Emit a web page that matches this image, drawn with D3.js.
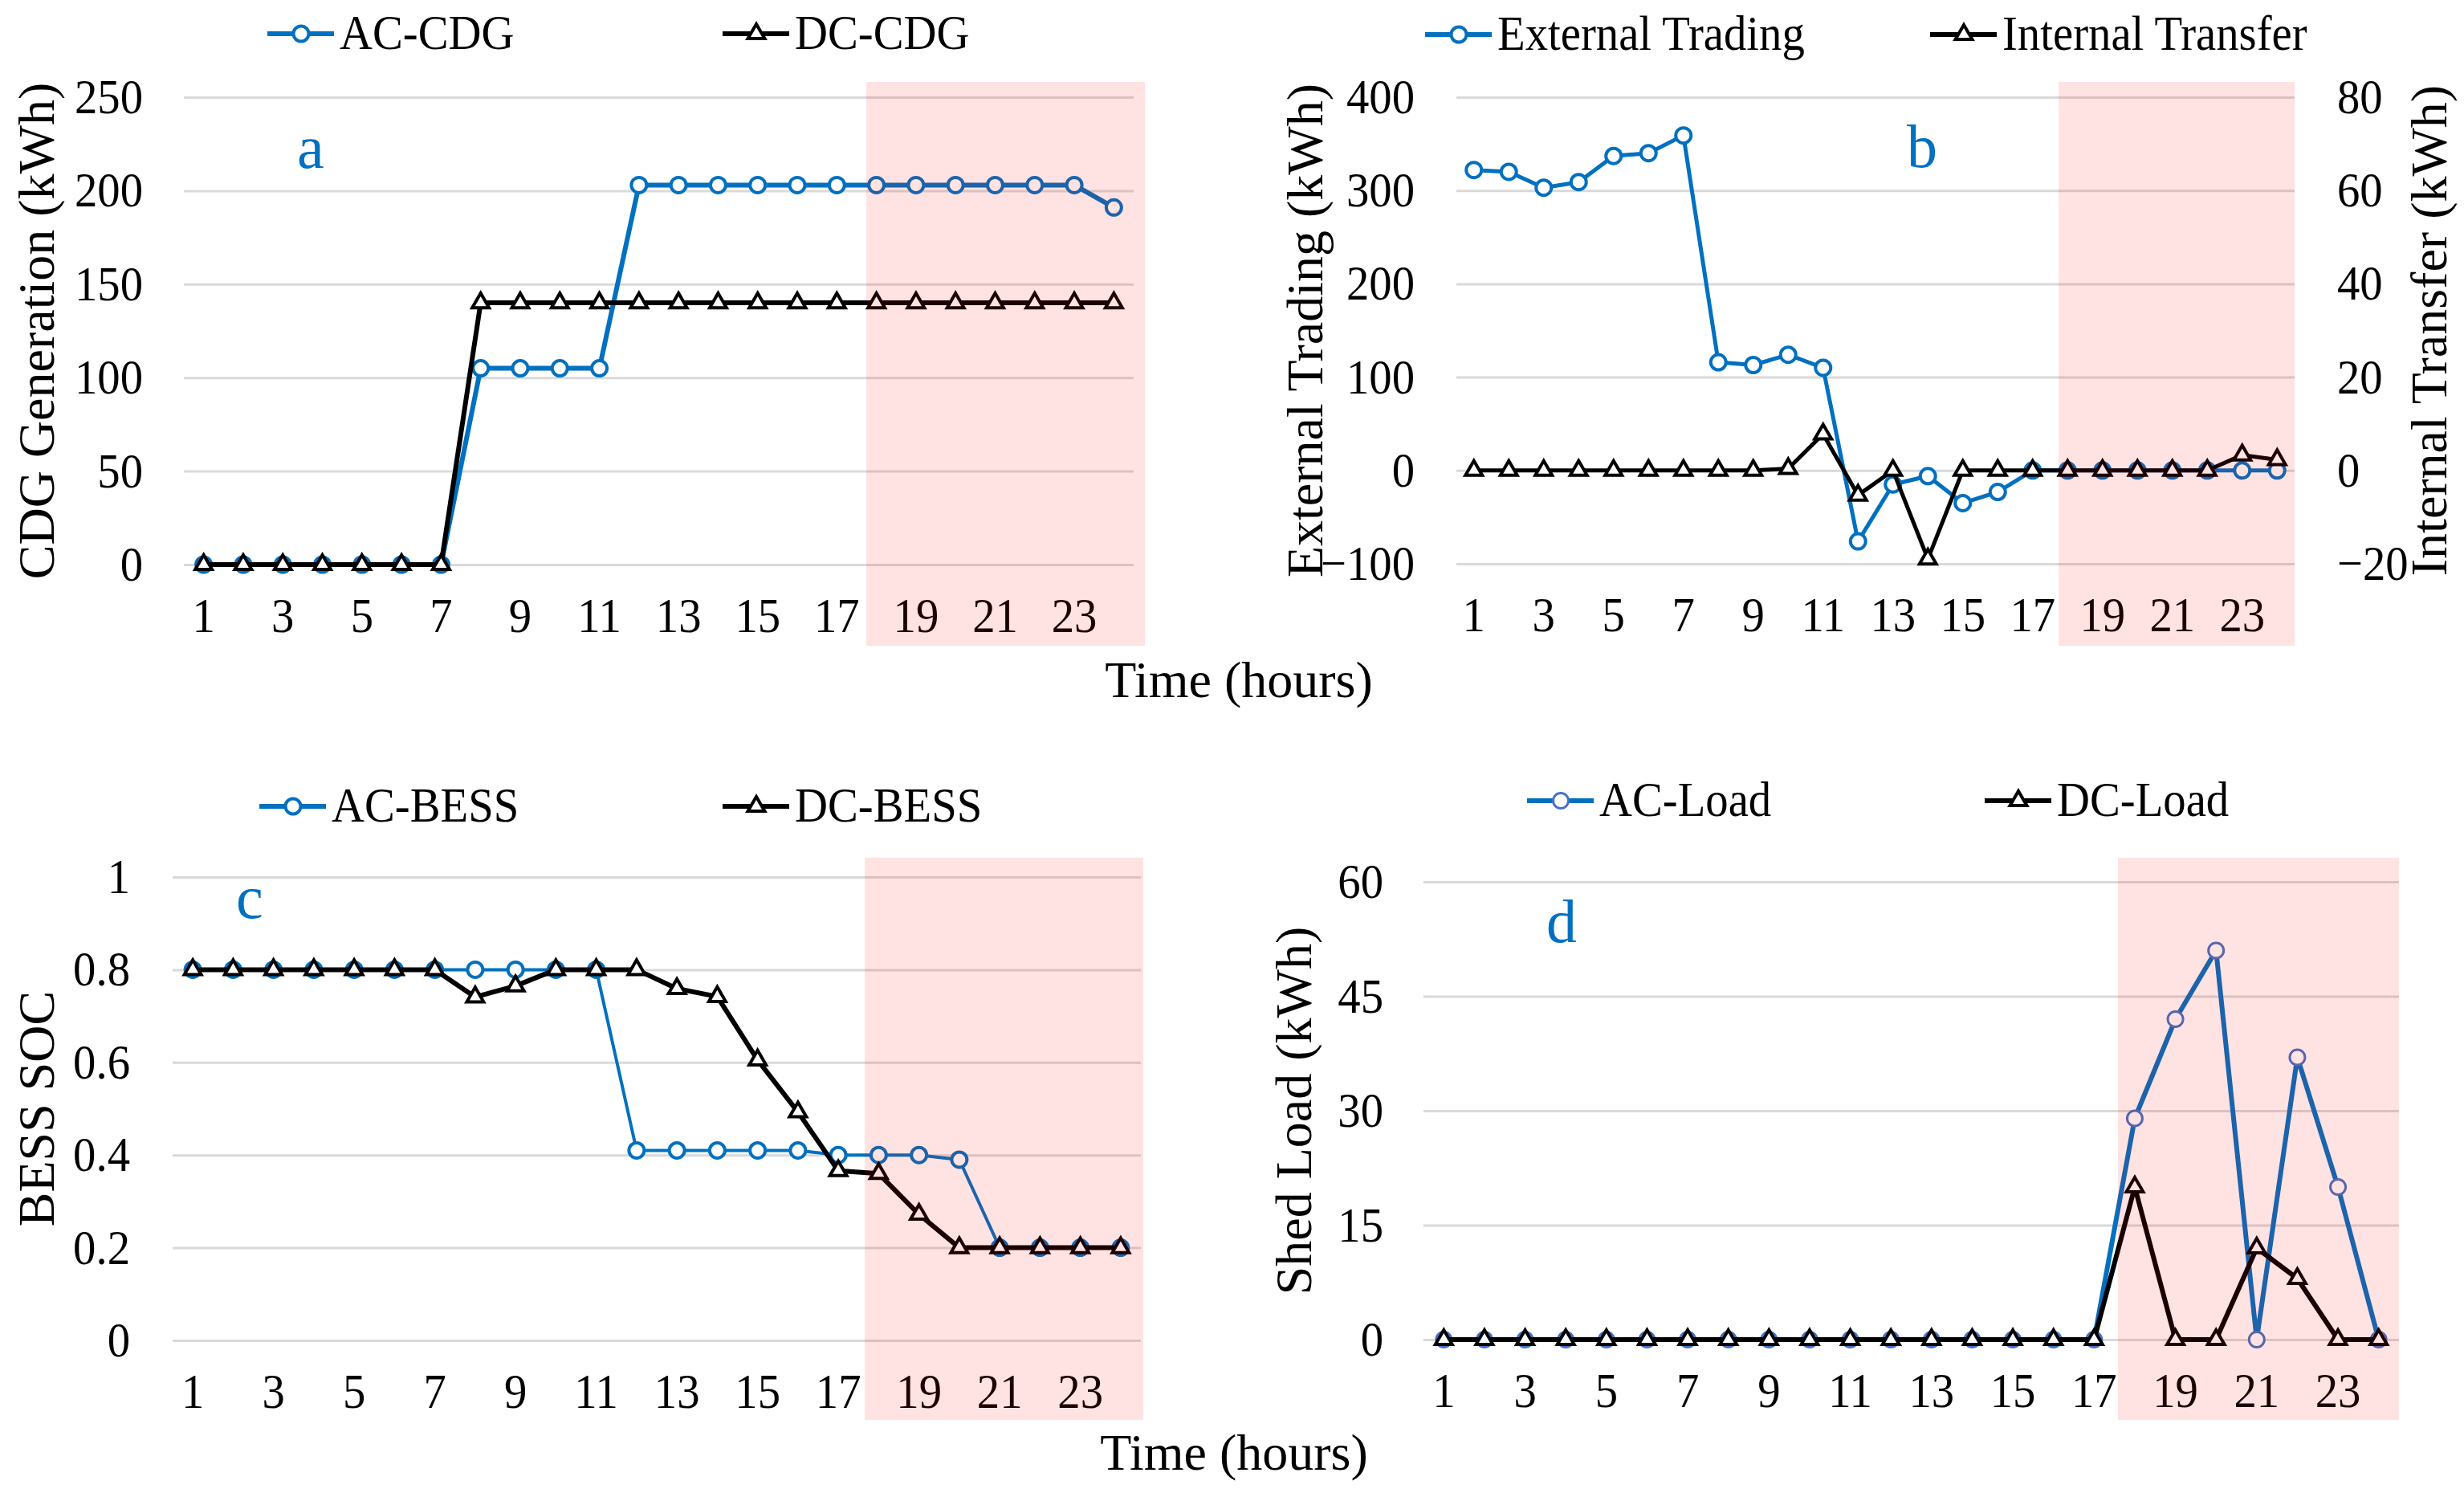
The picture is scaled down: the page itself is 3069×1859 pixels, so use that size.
<!DOCTYPE html>
<html>
<head>
<meta charset="utf-8">
<script src="https://cdn.jsdelivr.net/npm/d3@7"></script>
<style>
  html, body { margin: 0; padding: 0; background: #fff; }
  svg { font-family: "Liberation Serif", "Times New Roman", serif; }
</style>
</head>
<body>
<svg id="fig" width="3069" height="1859"></svg>
<script>
// ==============================
// Four-panel hourly chart (a-d)
// ==============================

// --- 1. Data ---
const hours = [1, 2, 3, 4, 5, 6, 7, 8, 9, 10, 11, 12, 13, 14, 15, 16, 17, 18, 19, 20, 21, 22, 23, 24];
const hourTicks = [1, 3, 5, 7, 9, 11, 13, 15, 17, 19, 21, 23];

// (a) CDG generation, kWh
const acCDG = [0, 0, 0, 0, 0, 0, 0, 105, 105, 105, 105, 203, 203, 203, 203, 203, 203, 203, 203, 203, 203, 203, 203, 191];
const dcCDG = [0, 0, 0, 0, 0, 0, 0, 140, 140, 140, 140, 140, 140, 140, 140, 140, 140, 140, 140, 140, 140, 140, 140, 140];
const cdgTicks = [0, 50, 100, 150, 200, 250];

// (b) external trading (left axis) / internal transfer (right axis), kWh
const externalTrading = [322, 320, 303, 309, 337, 340, 359, 116, 113, 124, 110, -76, -15, -6, -35, -23, 0, 0, 0, 0, 0, 0, 0, 0];
const internalTransfer = [0, 0, 0, 0, 0, 0, 0, 0, 0, 0.4, 7.8, -5.3, 0, -19, 0, 0, 0, 0, 0, 0, 0, 0, 3.3, 2.3];
const tradingTicks = [-100, 0, 100, 200, 300, 400];
const transferTicks = [-20, 0, 20, 40, 60, 80];

// (c) BESS state of charge
const acBESS = [0.8, 0.8, 0.8, 0.8, 0.8, 0.8, 0.8, 0.8, 0.8, 0.8, 0.8, 0.41, 0.41, 0.41, 0.41, 0.41, 0.40, 0.40, 0.40, 0.39, 0.2, 0.2, 0.2, 0.2];
const dcBESS = [0.8, 0.8, 0.8, 0.8, 0.8, 0.8, 0.8, 0.741, 0.765, 0.8, 0.8, 0.8, 0.759, 0.742, 0.605, 0.493, 0.366, 0.36, 0.272, 0.2, 0.2, 0.2, 0.2, 0.2];
const socTicks = [0, 0.2, 0.4, 0.6, 0.8, 1];

// (d) shed load, kWh
const acLoad = [0, 0, 0, 0, 0, 0, 0, 0, 0, 0, 0, 0, 0, 0, 0, 0, 0, 29, 42, 51, 0, 37, 20, 0];
const dcLoad = [0, 0, 0, 0, 0, 0, 0, 0, 0, 0, 0, 0, 0, 0, 0, 0, 0, 20, 0, 0, 12, 8, 0, 0];
const shedTicks = [0, 15, 30, 45, 60];

// --- 2. Styles ---
const FONT = "Liberation Serif, Times New Roman, serif";
const BLUE = "#0070C0";
const BLACK = "#000000";
const GRID = "#d9d9d9";
const TXT = 61;      // tick + legend size
const SX = 0.93;     // slight horizontal squeeze, as in the source figure

const svg = d3.select("#fig");
svg.append("rect").attr("width", 3069).attr("height", 1859).attr("fill", "#fff");

// --- 3. Panel definitions (layout only) ---
const panels = [
    {
        x0: 229, x1: 1412, y0: 121, y1: 703, yDomain: [0, 250], yTicks: cdgTicks, pad: 51,
        title: "CDG Generation (kWh)", titleX: 46,
        letter: "a", letterX: 370, letterY: 209,
        legendY: 42, legendX: [333, 900],
        shade: { x: 1079, y: 102, w: 347, h: 702 },
        series: [
            { name: "AC-CDG", values: acCDG, color: BLUE, marker: "circle", width: 6 },
            { name: "DC-CDG", values: dcCDG, color: BLACK, marker: "triangle", width: 6 }
        ]
    },
    {
        x0: 1814, x1: 2858, y0: 121, y1: 702, yDomain: [-100, 400], yTicks: tradingTicks, pad: 52,
        y2Domain: [-20, 80], y2Ticks: transferTicks, pad2: 53,
        title: "External Trading (kWh)", titleX: 1626,
        title2: "Internal Transfer (kWh)", title2X: 3026,
        letter: "b", letterX: 2375, letterY: 208,
        legendY: 43, legendX: [1775, 2404],
        shade: { x: 2564, y: 102, w: 294, h: 702 },
        series: [
            { name: "External Trading", values: externalTrading, color: BLUE, marker: "circle", width: 5 },
            { name: "Internal Transfer", values: internalTransfer, color: BLACK, marker: "triangle", width: 5, axis: 2 }
        ]
    },
    {
        x0: 215, x1: 1421, y0: 1092, y1: 1669, yDomain: [0, 1], yTicks: socTicks, pad: 53,
        title: "BESS SOC", titleX: 46,
        letter: "c", letterX: 294, letterY: 1143,
        legendY: 1004, legendX: [323, 900],
        shade: { x: 1077, y: 1068, w: 347, h: 700 },
        series: [
            { name: "AC-BESS", values: acBESS, color: BLUE, marker: "circle", width: 4 },
            { name: "DC-BESS", values: dcBESS, color: BLACK, marker: "triangle", width: 6 }
        ]
    },
    {
        x0: 1773, x1: 2988, y0: 1098, y1: 1668, yDomain: [0, 60], yTicks: shedTicks, pad: 50,
        title: "Shed Load (kWh)", titleX: 1612,
        letter: "d", letterX: 1926, letterY: 1173,
        legendY: 997, legendX: [1902, 2472],
        shade: { x: 2638, y: 1068, w: 350, h: 700 },
        series: [
            { name: "AC-Load", values: acLoad, color: BLUE, marker: "circle", markerColor: "#4472C4", markerWidth: 3, width: 6 },
            { name: "DC-Load", values: dcLoad, color: BLACK, marker: "triangle", width: 6 }
        ]
    }
];

// --- 4. Helpers ---
const triangle = d3.symbol().type(d3.symbolTriangle).size(190);

function addMarker(sel, s, px, py) {
    if (s.marker === "circle") {
        sel.append("circle")
            .attr("cx", px).attr("cy", py).attr("r", 9.5)
            .attr("fill", "#fff")
            .attr("stroke", s.markerColor || s.color)
            .attr("stroke-width", s.markerWidth || 4);
    } else {
        sel.append("path")
            .attr("d", triangle())
            .attr("transform", `translate(${px},${py})`)
            .attr("fill", "#fff")
            .attr("stroke", s.color)
            .attr("stroke-width", 4);
    }
}

// squeeze a text horizontally while keeping its anchor point
function squeeze(textSel) {
    textSel.each(function () {
        const t = d3.select(this);
        const x = +t.attr("x") || 0;
        t.attr("x", x / SX).attr("transform", `scale(${SX},1)`);
    });
}

function styleAxisText(g) {
    g.attr("font-family", FONT).attr("font-size", TXT);
    g.select(".domain").remove();
    g.selectAll("text").attr("fill", "#000").call(squeeze);
}

// --- 5. Draw one panel ---
function drawPanel(p) {
    const g = svg.append("g");
    const x = d3.scaleBand().domain(hours).range([p.x0, p.x1]);
    const cx = h => x(h) + x.bandwidth() / 2;
    const y = d3.scaleLinear().domain(p.yDomain).range([p.y1, p.y0]);
    const y2 = p.y2Domain ? d3.scaleLinear().domain(p.y2Domain).range([p.y1, p.y0]) : null;

    // gridlines
    g.append("g")
        .attr("transform", `translate(${p.x0},0)`)
        .call(d3.axisLeft(y).tickValues(p.yTicks).tickSize(-(p.x1 - p.x0)).tickFormat(""))
        .call(a => a.select(".domain").remove())
        .selectAll(".tick line")
        .attr("stroke", GRID)
        .attr("stroke-width", 3);

    // y tick labels
    g.append("g")
        .attr("transform", `translate(${p.x0},0)`)
        .call(d3.axisLeft(y).tickValues(p.yTicks).tickSize(0).tickPadding(p.pad).tickFormat(d3.format("~g")))
        .call(styleAxisText);

    if (y2) {
        g.append("g")
            .attr("transform", `translate(${p.x1},0)`)
            .call(d3.axisRight(y2).tickValues(p.y2Ticks).tickSize(0).tickPadding(p.pad2).tickFormat(d3.format("~g")))
            .call(styleAxisText);
    }

    // x tick labels
    g.append("g")
        .attr("transform", `translate(0,${p.y1})`)
        .call(d3.axisBottom(x).tickValues(hourTicks).tickSize(0).tickPadding(41))
        .call(styleAxisText);

    // series lines + markers
    p.series.forEach(s => {
        const ys = s.axis === 2 ? y2 : y;
        const pts = hours.map((h, i) => ({ h: h, v: s.values[i] }));
        g.append("path")
            .datum(pts)
            .attr("fill", "none")
            .attr("stroke", s.color)
            .attr("stroke-width", s.width)
            .attr("stroke-linejoin", "round")
            .attr("d", d3.line().x(d => cx(d.h)).y(d => ys(d.v)));
        const mg = g.append("g");
        pts.forEach(d => addMarker(mg, s, cx(d.h), ys(d.v)));
    });

    // shaded evening window (overlay)
    g.append("rect")
        .attr("x", p.shade.x).attr("y", p.shade.y)
        .attr("width", p.shade.w).attr("height", p.shade.h)
        .attr("fill", "#ff0000")
        .attr("opacity", 0.11);

    // axis titles
    const midY = (p.y0 + p.y1) / 2;
    const titles = [[p.title, p.titleX]];
    if (p.title2) titles.push([p.title2, p.title2X]);
    titles.forEach(([txt, tx]) => {
        g.append("text")
            .attr("transform", `translate(${tx},${midY}) rotate(-90)`)
            .attr("dy", "0.33em")
            .attr("text-anchor", "middle")
            .attr("font-family", FONT)
            .attr("font-size", 64)
            .text(txt);
    });

    // panel letter
    g.append("text")
        .attr("x", p.letterX).attr("y", p.letterY)
        .attr("font-family", FONT)
        .attr("font-size", 76)
        .attr("fill", BLUE)
        .text(p.letter);

    // legend
    p.series.forEach((s, i) => {
        const lx = p.legendX[i];
        const lg = g.append("g");
        lg.append("line")
            .attr("x1", lx).attr("x2", lx + 83)
            .attr("y1", p.legendY).attr("y2", p.legendY)
            .attr("stroke", s.color)
            .attr("stroke-width", 6);
        addMarker(lg, s, lx + 42, p.legendY);
        lg.append("text")
            .attr("x", lx + 90).attr("y", p.legendY + 19)
            .attr("font-family", FONT)
            .attr("font-size", TXT)
            .text(s.name)
            .call(squeeze);
    });
}

panels.forEach(drawPanel);

// --- 6. Shared x titles ---
[[1543, 868], [1537, 1830]].forEach(([tx, ty]) => {
    svg.append("text")
        .attr("x", tx).attr("y", ty)
        .attr("text-anchor", "middle")
        .attr("font-family", FONT)
        .attr("font-size", 64)
        .text("Time (hours)");
});
</script>
</body>
</html>
